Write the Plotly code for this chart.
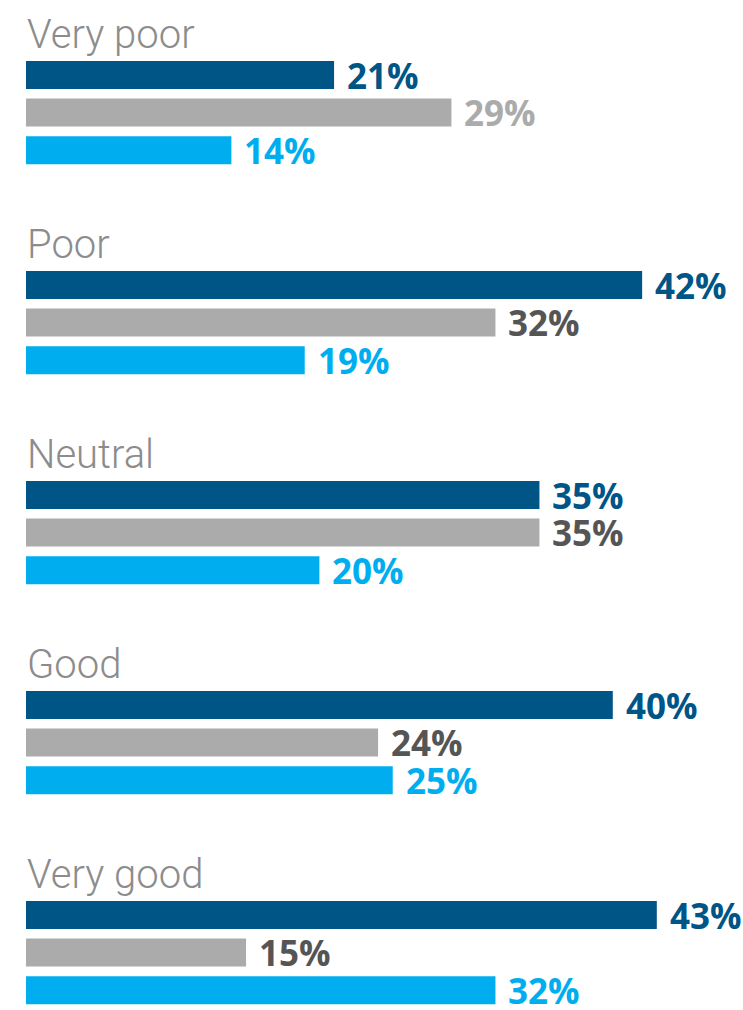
import plotly.graph_objects as go

# Rating categories and survey shares (%) for the three respondent groups
categories = ["Very poor", "Poor", "Neutral", "Good", "Very good"]
series_a = [21, 42, 35, 40, 43]
series_b = [29, 32, 35, 24, 15]
series_c = [14, 19, 20, 25, 32]

bar_colors = ["#005587", "#ABABAB", "#00AEEF"]
label_colors = [
    ["#005587"] * 5,
    ["#ABABAB", "#555555", "#555555", "#555555", "#555555"],
    ["#00AEEF"] * 5,
]

W, H = 743, 1010
X0 = 26            # pixel where the value axis starts
PX_PER_PCT = 14.67
GROUP_TOP = 75     # centre of first bar, in pixels
GROUP_STEP = 210
ROW_STEP = 37.6
BAR_H = 28

fig = go.Figure()
annotations = []
for s, vals in enumerate([series_a, series_b, series_c]):
    ys = [GROUP_TOP + GROUP_STEP * g + ROW_STEP * s for g in range(len(categories))]
    fig.add_trace(go.Bar(
        x=vals, y=ys, orientation="h", width=BAR_H,
        marker=dict(color=bar_colors[s], line=dict(width=0)),
        hoverinfo="skip", showlegend=False,
    ))
    for g, (v, y) in enumerate(zip(vals, ys)):
        annotations.append(dict(
            x=v, y=y, xref="x", yref="y", text=f"{v}%",
            showarrow=False, xanchor="left", yanchor="middle", xshift=11,
            font=dict(family="Open Sans", size=35, color=label_colors[s][g], weight="bold"),
        ))

for g, cat in enumerate(categories):
    annotations.append(dict(
        x=0, y=GROUP_TOP + GROUP_STEP * g - 41, xref="x", yref="y", text=cat,
        showarrow=False, xanchor="left", yanchor="middle", xshift=-1,
        font=dict(family="Roboto", size=40, color="#8C8C8C", weight=300),
    ))

fig.update_layout(
    width=W, height=H,
    margin=dict(l=0, r=0, t=0, b=0),
    paper_bgcolor="white", plot_bgcolor="white",
    barmode="overlay",
    xaxis=dict(range=[-X0 / PX_PER_PCT, (W - X0) / PX_PER_PCT], visible=False, fixedrange=True),
    yaxis=dict(range=[H, 0], visible=False, fixedrange=True),
    annotations=annotations,
)

fig.write_html("out.html")
